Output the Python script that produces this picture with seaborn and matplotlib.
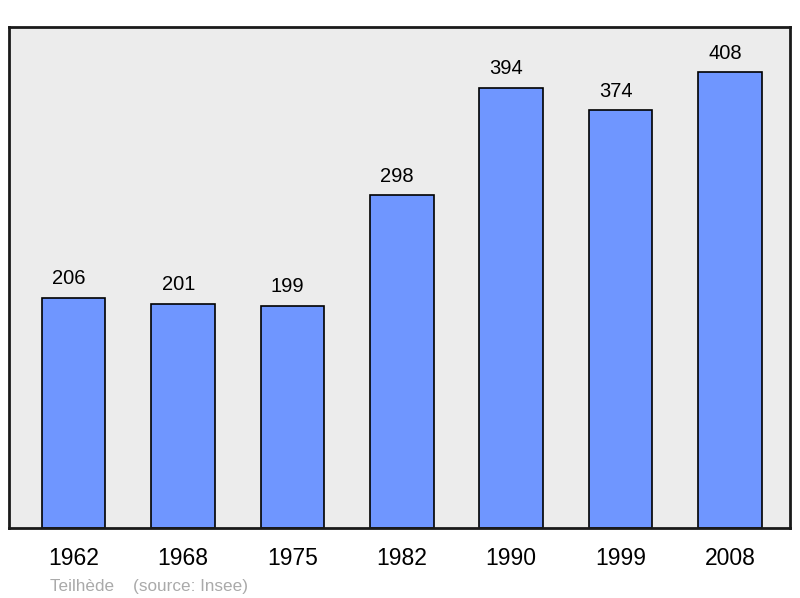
import pandas as pd
import matplotlib.pyplot as plt
import seaborn as sns

# Données de population
annees = ['1962', '1968', '1975', '1982', '1990', '1999', '2008']
population = [206, 201, 199, 298, 394, 374, 408]

df = pd.DataFrame({'Annee': annees, 'Population': population})

sns.set_theme(style="white")
plt.rcParams['font.family'] = ['Liberation Sans', 'DejaVu Sans']

fig = plt.figure(figsize=(8, 5.98), dpi=100)
ax = fig.add_axes([0.0115, 0.117, 0.976, 0.838])
ax.set_facecolor('#ececec')

sns.barplot(x='Annee', y='Population', data=df, color='#6f96ff', saturation=1,
            edgecolor='black', linewidth=1.2, width=0.58, ax=ax)

# Valeurs au-dessus des barres
for i, v in enumerate(population):
    ax.annotate(str(v), xy=(i, v), xytext=(-3.5, 7), textcoords='offset points',
                ha='center', va='bottom', fontsize=14.5, color='black')

ax.set_xlim(-0.59, 6.55)
ax.set_ylim(0, max(population) * 1.1)
ax.set_xlabel('')
ax.set_ylabel('')
ax.set_yticks([])
ax.tick_params(axis='x', length=0, labelsize=16.5, pad=14, labelcolor='black')

for s in ax.spines.values():
    s.set_color('#1a1a1a')
    s.set_linewidth(2)

fig.text(0.062, 0.012, 'Teilhède    (source: Insee)', fontsize=12.3, color='#aaaaaa')

plt.savefig('out.png', dpi=100)
